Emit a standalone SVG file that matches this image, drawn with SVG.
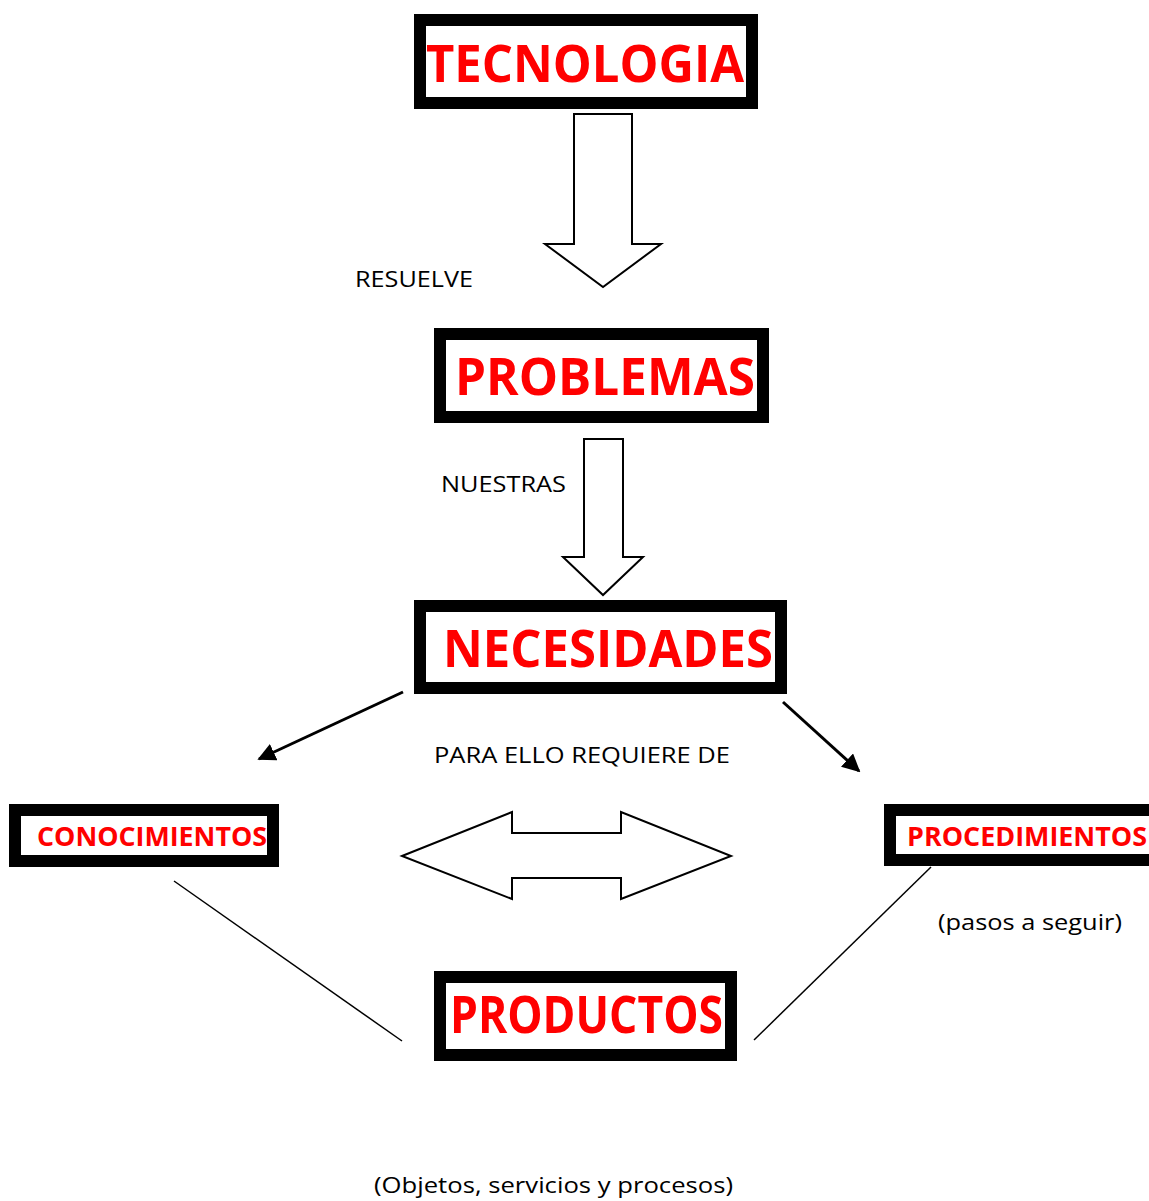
<svg xmlns="http://www.w3.org/2000/svg" width="1149" height="1201" viewBox="0 0 1149 1201">
<defs>
<style>
.box{fill:#fff;stroke:#000;stroke-width:12}
.big{font-family:"Open Sans","Liberation Sans",sans-serif;font-weight:bold;fill:#ff0000;font-size:52px}
.mid{font-family:"Open Sans","Liberation Sans",sans-serif;font-weight:bold;fill:#ff0000;font-size:26px}
.lbl{font-family:"Open Sans","Liberation Sans",sans-serif;fill:#000;font-size:21px}
.blk{fill:#fff;stroke:#000;stroke-width:2;stroke-linejoin:miter}
.ln{stroke:#000;stroke-width:1.5;fill:none}
.ar{stroke:#000;stroke-width:3;fill:none}
</style>
<marker id="ah" viewBox="0 0 10 10" refX="9" refY="5" markerWidth="6" markerHeight="6" markerUnits="strokeWidth" orient="auto">
<path d="M0,0 L10,5 L0,10 Z" fill="#000"/>
</marker>
</defs>
<rect width="1149" height="1201" fill="#fff"/>
<g id="connectors">
<path class="blk" d="M574,114 H632 V244 H661 L603,287 L545,244 H574 Z"/>
<path class="blk" d="M584,439 H623 V557 H643 L603,595 L563,557 H584 Z"/>
<path class="blk" d="M402,856 L512,812 V833 H621 V812 L731,856 L621,899 V878 H512 V899 Z"/>
<line class="ar" x1="403" y1="692" x2="259" y2="759" marker-end="url(#ah)"/>
<line class="ar" x1="783" y1="702" x2="859" y2="771" marker-end="url(#ah)"/>
<line class="ln" x1="174" y1="881" x2="402" y2="1041"/>
<line class="ln" x1="931" y1="867" x2="754" y2="1040"/>
</g>
<g id="tecnologia">
<rect class="box" x="420" y="20" width="332" height="83"/>
<text class="big" x="426" y="82" textLength="318" lengthAdjust="spacingAndGlyphs">TECNOLOGIA</text>
</g>
<g id="problemas">
<rect class="box" x="440" y="334" width="323" height="83"/>
<text class="big" x="455" y="395" textLength="300" lengthAdjust="spacingAndGlyphs">PROBLEMAS</text>
</g>
<g id="necesidades">
<rect class="box" x="420" y="606" width="361" height="82"/>
<text class="big" x="443" y="667" textLength="330" lengthAdjust="spacingAndGlyphs">NECESIDADES</text>
</g>
<g id="conocimientos">
<rect class="box" x="15" y="810" width="258" height="51"/>
<text class="mid" x="37" y="846" textLength="230" lengthAdjust="spacingAndGlyphs">CONOCIMIENTOS</text>
</g>
<g id="procedimientos">
<rect class="box" x="890" y="810" width="280" height="50"/>
<text class="mid" x="907" y="846" textLength="240" lengthAdjust="spacingAndGlyphs">PROCEDIMIENTOS</text>
</g>
<g id="productos">
<rect class="box" x="440" y="977" width="291" height="78"/>
<text class="big" x="450" y="1033" textLength="273" lengthAdjust="spacingAndGlyphs">PRODUCTOS</text>
</g>
<g id="labels">
<text class="lbl" x="355" y="287" textLength="118" lengthAdjust="spacingAndGlyphs">RESUELVE</text>
<text class="lbl" x="441" y="492" textLength="125" lengthAdjust="spacingAndGlyphs">NUESTRAS</text>
<text class="lbl" x="434" y="763" textLength="296" lengthAdjust="spacingAndGlyphs">PARA ELLO REQUIERE DE</text>
<text class="lbl" x="938" y="930" textLength="184" lengthAdjust="spacingAndGlyphs">(pasos a seguir)</text>
<text class="lbl" x="374" y="1193" textLength="359" lengthAdjust="spacingAndGlyphs">(Objetos, servicios y procesos)</text>
</g>
</svg>
